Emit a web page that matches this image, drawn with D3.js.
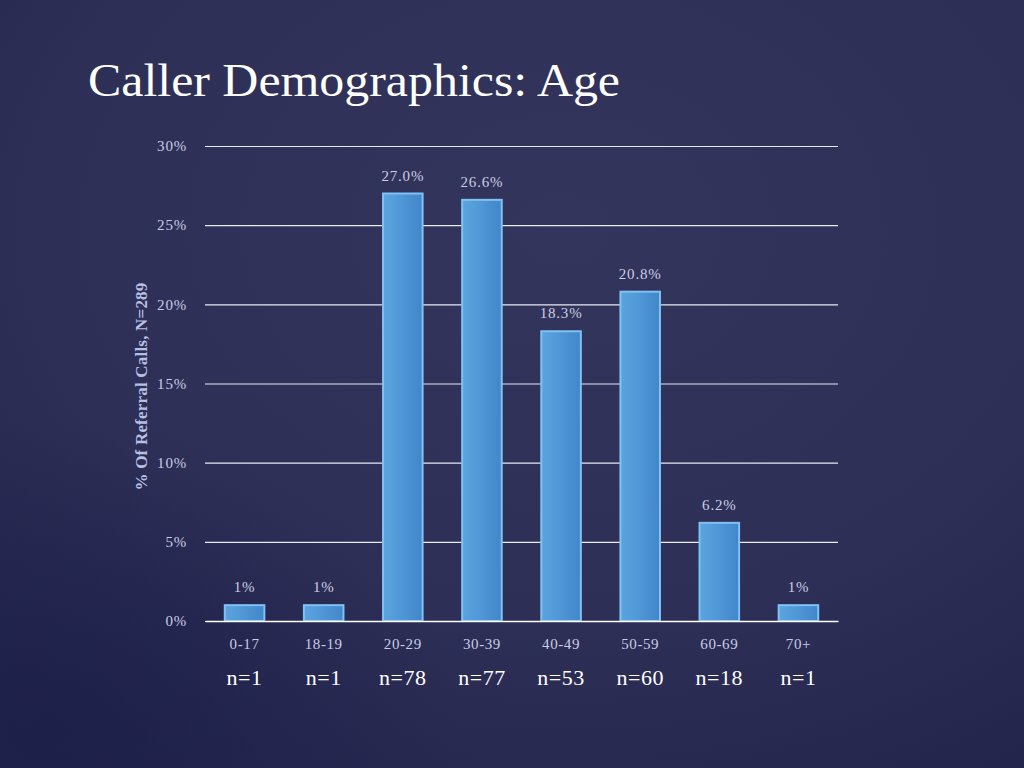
<!DOCTYPE html>
<html><head><meta charset="utf-8">
<script src="https://cdn.jsdelivr.net/npm/d3@7"></script>
<style>html,body{margin:0;padding:0;background:#2e3058;}svg{display:block;}</style>
</head><body>
<svg id="c" width="1024" height="768"></svg>
<script>
const categories = ["0-17","18-19","20-29","30-39","40-49","50-59","60-69","70+"];
const values = [1, 1, 27.0, 26.6, 18.3, 20.8, 6.2, 1];
const valueLabels = ["1%","1%","27.0%","26.6%","18.3%","20.8%","6.2%","1%"];
const counts = ["n=1","n=1","n=78","n=77","n=53","n=60","n=18","n=1"];
const yTicks = [0,5,10,15,20,25,30];
const title = "Caller Demographics: Age";
const yTitle = "% Of Referral Calls, N=289";

const svg = d3.select("#c");
const W = 1024, H = 768;
const defs = svg.append("defs");
const bg = defs.append("radialGradient").attr("id","bg").attr("cx","0.55").attr("cy","0.3").attr("r","0.85");
bg.append("stop").attr("offset","0").attr("stop-color","#33355c");
bg.append("stop").attr("offset","0.6").attr("stop-color","#2d2f57");
bg.append("stop").attr("offset","1").attr("stop-color","#22244c");
svg.append("rect").attr("width",W).attr("height",H).attr("fill","url(#bg)");
const bl = defs.append("radialGradient").attr("id","bl").attr("cx","0.05").attr("cy","0.95").attr("r","0.4");
bl.append("stop").attr("offset","0").attr("stop-color","#1c1f48").attr("stop-opacity","0.8");
bl.append("stop").attr("offset","1").attr("stop-color","#1c1f48").attr("stop-opacity","0");
svg.append("rect").attr("width",W).attr("height",H).attr("fill","url(#bl)");

const bar = defs.append("linearGradient").attr("id","bar").attr("x1","0").attr("x2","1").attr("y1","0").attr("y2","0");
bar.append("stop").attr("offset","0").attr("stop-color","#5ca4df");
bar.append("stop").attr("offset","0.5").attr("stop-color","#4f96d6");
bar.append("stop").attr("offset","1").attr("stop-color","#4186c9");

const font = "'Liberation Serif', 'DejaVu Serif', serif";
svg.append("text").attr("x",88).attr("y",96).attr("fill","#ffffff")
  .attr("font-family",font).attr("font-size",46).attr("textLength",532).attr("lengthAdjust","spacingAndGlyphs").text(title);

const x0 = 205, x1 = 838, yTop = 146, yBot = 621;
const x = d3.scaleBand().domain(categories).range([x0,x1]).paddingInner(0.5).paddingOuter(0.25);
const y = d3.scaleLinear().domain([0,30]).range([yBot,yTop]);

const g = svg.append("g");
const yAxis = d3.axisLeft(y).tickValues(yTicks).tickFormat(d=>d+"%").tickSize(-(x1-x0)).tickPadding(18);
const ya = g.append("g").attr("transform",`translate(${x0},0)`).call(yAxis);
ya.select(".domain").remove();
ya.selectAll(".tick line").attr("stroke","#e8eaf4").attr("stroke-width",1.2);
ya.selectAll(".tick text").attr("fill","#c9cde3").attr("font-family",font).attr("font-size",15).attr("letter-spacing","0.8px");

g.selectAll("rect.b").data(values).join("rect").attr("class","b")
  .attr("x",(d,i)=>x(categories[i])).attr("width",x.bandwidth())
  .attr("y",d=>y(d)).attr("height",d=>yBot-y(d))
  .attr("fill","url(#bar)").attr("stroke","#7fc2f3").attr("stroke-width",2);

g.selectAll("text.v").data(values).join("text").attr("class","v")
  .attr("x",(d,i)=>x(categories[i])+x.bandwidth()/2).attr("y",d=>y(d)-13)
  .attr("text-anchor","middle").attr("fill","#c9cde3").attr("font-family",font).attr("font-size",15).attr("letter-spacing","0.8px")
  .text((d,i)=>valueLabels[i]);

const xAxis = d3.axisBottom(x).tickSize(0).tickPadding(17);
const xa = g.append("g").attr("transform",`translate(0,${yBot})`).call(xAxis);
xa.select(".domain").attr("stroke","#ffffff").attr("stroke-width",1.5);
xa.selectAll(".tick text").attr("fill","#c9cde3").attr("font-family",font).attr("font-size",15).attr("letter-spacing","0.6px");

g.selectAll("text.n").data(counts).join("text").attr("class","n")
  .attr("x",(d,i)=>x(categories[i])+x.bandwidth()/2).attr("y",685)
  .attr("text-anchor","middle").attr("fill","#ffffff").attr("font-family",font).attr("font-size",22).attr("letter-spacing","0.5px")
  .text(d=>d);

svg.append("text").attr("transform",`translate(147,${(yTop+yBot)/2 + 3}) rotate(-90)`)
  .attr("text-anchor","middle").attr("fill","#b7bfe3").attr("font-family",font).attr("font-weight","bold")
  .attr("font-size",17).attr("letter-spacing","0.2px").text(yTitle);
</script>
</body></html>
